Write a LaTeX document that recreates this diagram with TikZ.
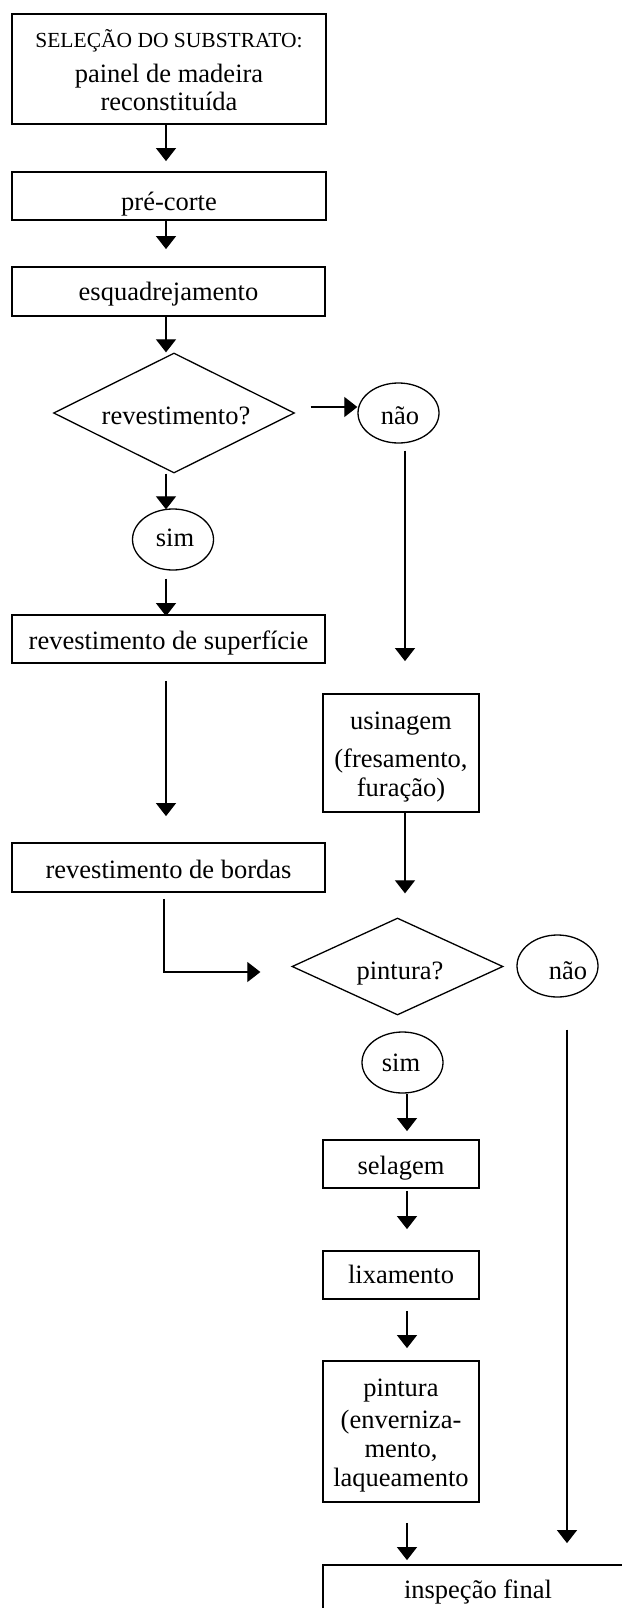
\documentclass[tikz,border=0pt]{standalone}
\usepackage{fontspec}
\setmainfont{Liberation Serif}
\usetikzlibrary{arrows.meta,shapes.geometric}
\begin{document}
\begin{tikzpicture}[x=1pt,y=-1pt,
  boxnode/.style={draw, line width=1.8pt, rectangle, inner sep=0pt},
  decision/.style={draw, line width=1.3pt, diamond, inner sep=0pt},
  oval/.style={draw, line width=1.3pt, ellipse, inner sep=0pt},
  lbl/.style={anchor=base, inner sep=0pt, font=\fontsize{26.5}{30}\selectfont},
  smalllbl/.style={anchor=base, inner sep=0pt, font=\fontsize{21.5}{24}\selectfont},
  flow/.style={line width=1.1pt, -{Triangle[width=20pt,length=13pt]}}
]
\useasboundingbox (0,0) rectangle (621,1608);

% shapes
\node[boxnode, minimum width=314pt, minimum height=110pt] (B1) at (169,69) {};
\node[boxnode, minimum width=314pt, minimum height=48pt] (B2) at (169,196) {};
\node[boxnode, minimum width=313pt, minimum height=49pt] (B3) at (168.5,291.5) {};
\node[decision, minimum width=241pt, minimum height=120pt] (D1) at (174,413) {};
\node[oval, minimum width=81pt, minimum height=60pt] (E1) at (398.5,413) {};
\node[oval, minimum width=81pt, minimum height=61pt] (E2) at (173,539.5) {};
\node[boxnode, minimum width=313pt, minimum height=48pt] (B4) at (168.5,639) {};
\node[boxnode, minimum width=156pt, minimum height=118pt] (B5) at (401,753) {};
\node[boxnode, minimum width=313pt, minimum height=49pt] (B6) at (168.5,867.5) {};
\node[decision, minimum width=211pt, minimum height=97pt] (D2) at (397.5,966.5) {};
\node[oval, minimum width=81pt, minimum height=62pt] (E3) at (557.5,966) {};
\node[oval, minimum width=81pt, minimum height=61pt] (E4) at (402.5,1062.5) {};
\node[boxnode, minimum width=156pt, minimum height=48pt] (B7) at (401,1164) {};
\node[boxnode, minimum width=156pt, minimum height=48pt] (B8) at (401,1275) {};
\node[boxnode, minimum width=156pt, minimum height=141pt] (B9) at (401,1431.5) {};
\node[boxnode, minimum width=308pt, minimum height=60pt] (B10) at (477,1595) {};

% texts
\node[smalllbl] (t1a) at (169,48) {SELEÇÃO DO SUBSTRATO:};
\node[lbl] (t1b) at (169,83) {painel de madeira};
\node[lbl] (t1c) at (169,111) {reconstituída};
\node[lbl] (t2) at (169,211) {pré-corte};
\node[lbl] (t3) at (168.5,300) {esquadrejamento};
\node[lbl] (tD1) at (176,424) {revestimento?};
\node[lbl] (tE1) at (400,424) {não};
\node[lbl] (tE2) at (175,546) {sim};
\node[lbl] (t4) at (168.5,649) {revestimento de superfície};
\node[lbl] (t5a) at (401,729) {usinagem};
\node[lbl] (t5b) at (401,767) {(fresamento,};
\node[lbl] (t5c) at (401,796) {furação)};
\node[lbl] (t6) at (168.5,878) {revestimento de bordas};
\node[lbl] (tD2) at (400,979) {pintura?};
\node[lbl] (tE3) at (568,979) {não};
\node[lbl] (tE4) at (401,1071) {sim};
\node[lbl] (t7) at (401,1174) {selagem};
\node[lbl] (t8) at (401,1283) {lixamento};
\node[lbl] (t9a) at (401,1396) {pintura};
\node[lbl] (t9b) at (401,1428) {(enverniza-};
\node[lbl] (t9c) at (401,1457) {mento,};
\node[lbl] (t9d) at (401,1486) {laqueamento};
\node[lbl] (t10) at (478,1598) {inspeção final};

% connectors
\draw[flow, shorten >=10pt] ([xshift=-3pt]B1.south) -- ([xshift=-3pt]B2.north);
\draw[flow, shorten >=17pt] ([xshift=-3pt]B2.south) -- ([xshift=-2.5pt]B3.north);
\draw[flow] ([xshift=-2.5pt]B3.south) -- ([xshift=-8pt]D1.north);
\draw[flow] ([shift={(15.5pt,6pt)}]D1.east) -- ([yshift=6pt]E1.west);
\draw[flow, shorten <=7pt, shorten >=32pt] ([xshift=6.5pt]E1.south) -- ([xshift=4pt]B5.north);
\draw[flow, shorten >=-1pt] ([xshift=-8pt]D1.south) -- ([xshift=-7pt]E2.north);
\draw[flow, shorten <=8pt, shorten >=-2pt] ([xshift=-7pt]E2.south) -- ([xshift=-2.5pt]B4.north);
\draw[flow, shorten <=17pt, shorten >=26pt] ([xshift=-2.5pt]B4.south) -- ([xshift=-2.5pt]B6.north);
\draw[flow, shorten >=24pt] ([xshift=4pt]B5.south) -- ([xshift=7.5pt]D2.north);
\draw[flow, shorten <=6pt] ([xshift=-4.5pt]B6.south) |- ([shift={(-31pt,-5.5pt)}]D2.west);
\draw[flow, shorten <=32pt, shorten >=21pt] ([xshift=9.5pt]E3.south) -- ([xshift=90pt]B10.north);
\draw[flow, shorten >=8pt] ([xshift=4.5pt]E4.south) -- ([xshift=6pt]B7.north);
\draw[flow, shorten <=2pt, shorten >=21pt] ([xshift=6pt]B7.south) -- ([xshift=6pt]B8.north);
\draw[flow, shorten <=11pt, shorten >=12pt] ([xshift=6pt]B8.south) -- ([xshift=6pt]B9.north);
\draw[flow, shorten <=20pt, shorten >=4pt] ([xshift=6pt]B9.south) -- ([xshift=-70pt]B10.north);
\end{tikzpicture}
\end{document}
